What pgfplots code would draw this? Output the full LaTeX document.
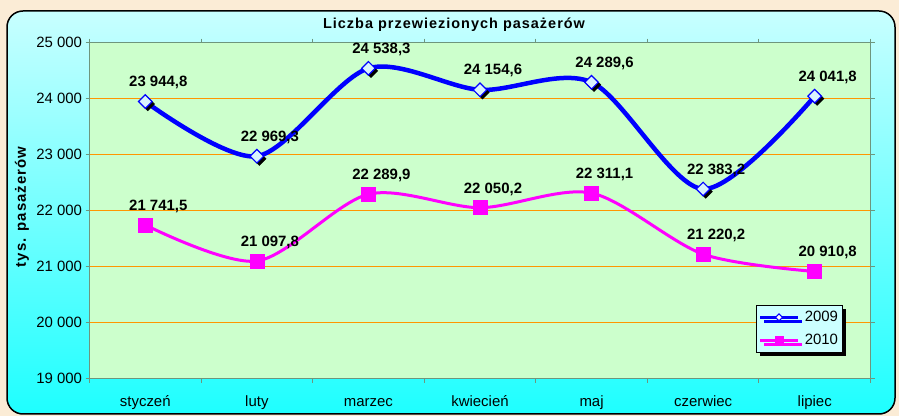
\documentclass[border=0pt]{standalone}
\usepackage{fontspec}
\setmainfont{Liberation Sans}
\newfontfamily\spacedfont[LetterSpace=7]{Liberation Sans}
\usepackage{pgfplots}
\pgfplotsset{compat=1.18}
\usetikzlibrary{shadows}

\definecolor{bgbeige}{RGB}{251,236,214}
\definecolor{paneltop}{RGB}{200,255,255}
\definecolor{panelbot}{RGB}{30,255,255}
\definecolor{plotedge}{RGB}{204,255,204}
\definecolor{plotmid}{RGB}{248,255,248}
\definecolor{gridor}{RGB}{255,150,0}
\definecolor{axgray}{RGB}{110,150,125}
\definecolor{legfill}{RGB}{204,255,255}
\definecolor{dblue}{RGB}{0,0,255}
\definecolor{dmag}{RGB}{255,0,255}

\begin{document}
\begin{tikzpicture}
\useasboundingbox (0,0) rectangle (899bp,416bp);
\fill[bgbeige] (0,0) rectangle (899bp,416bp);
\shade[top color=paneltop, bottom color=panelbot, draw=black, line width=1.5bp,
       rounded corners=16bp] (7bp,2bp) rectangle (895bp,405bp);

\begin{axis}[
  at={(89.5bp,37.5bp)}, anchor=south west, scale only axis,
  width=781bp, height=336bp,
  xmin=0.5, xmax=7.5, ymin=19000, ymax=25000,
  scaled y ticks=false,
  xtick={0.5,1.5,...,7.5},
  x tick label as interval,
  xticklabels={styczeń,luty,marzec,kwiecień,maj,czerwiec,lipiec},
  ytick={19000,20000,...,25000},
  yticklabels={19 000,20 000,21 000,22 000,23 000,24 000,25 000},
  tick align=outside, tick style={axgray, line width=1bp},
  major tick length=4bp,
  ymajorgrids,
  grid style={draw=gridor, line width=1bp},
  major grid style={draw=gridor, line width=1bp},
  axis line style={axgray, line width=1bp},
  axis background/.style={shade, top color=plotedge, middle color=plotmid, bottom color=plotedge},
  ticklabel style={font=\fontsize{15}{18}\selectfont, text=black},
  xticklabel style={anchor=base, yshift=-24bp},
  legend style={at={(0.964,0.077)}, anchor=south east,
    fill=legfill, draw=black, line width=0.8bp,
    font=\fontsize{15}{18}\selectfont, row sep=7bp, column sep=3bp,
    inner ysep=4bp, inner xsep=2bp,
    general shadow={fill=black, shadow xshift=4bp, shadow yshift=-4bp}},
  legend cell align=left,
  legend image code/.code={\draw[mark repeat=2, mark phase=2, #1] plot coordinates {(0bp,0bp) (19bp,0bp) (38bp,0bp)};},
]
\addlegendimage{dblue, line width=3.5bp, mark=square*, mark size=2.5bp,
  mark options={rotate=45, fill=white, draw=dblue, line width=1bp}}
\addlegendimage{dmag, line width=2.5bp, mark=square*, mark size=4bp,
  mark options={fill=dmag, draw=dmag, line width=0.5bp}}
\legend{2009,2010}

% 2009
\addplot[dblue, line width=4.5bp, smooth, forget plot] coordinates {
  (1,23944.8) (2,22969.3) (3,24538.3) (4,24154.6) (5,24289.6) (6,22383.2) (7,24041.8)
};
\addplot[only marks, mark=square*, mark size=4.8bp, forget plot,
  mark options={xshift=2.5bp, yshift=-2.5bp, rotate=45, fill=black, draw=black}] coordinates {
  (1,23944.8) (2,22969.3) (3,24538.3) (4,24154.6) (5,24289.6) (6,22383.2) (7,24041.8)
};
\addplot[only marks, mark=square*, mark size=4.8bp, forget plot,
  mark options={rotate=45, fill=cyan!15, draw=dblue, line width=1.2bp},
  point meta=explicit symbolic, nodes near coords,
  nodes near coords style={font=\bfseries\fontsize{15}{18}\selectfont, text=black,
    anchor=south, inner sep=0pt, yshift=12bp, xshift=13bp}] coordinates {
  (1,23944.8) [23 944,8]
  (2,22969.3) [22 969,3]
  (3,24538.3) [24 538,3]
  (4,24154.6) [24 154,6]
  (5,24289.6) [24 289,6]
  (6,22383.2) [22 383,2]
  (7,24041.8) [24 041,8]
};

% 2010
\addplot[dmag, line width=3bp, smooth, forget plot] coordinates {
  (1,21741.5) (2,21097.8) (3,22289.9) (4,22050.2) (5,22311.1) (6,21220.2) (7,20910.8)
};
\addplot[only marks, mark=square*, mark size=7bp, forget plot,
  mark options={fill=dmag, draw=dmag, line width=0.5bp},
  point meta=explicit symbolic, nodes near coords,
  nodes near coords style={font=\bfseries\fontsize{15}{18}\selectfont, text=black,
    anchor=south, inner sep=0pt, yshift=12bp, xshift=13bp}] coordinates {
  (1,21741.5) [21 741,5]
  (2,21097.8) [21 097,8]
  (3,22289.9) [22 289,9]
  (4,22050.2) [22 050,2]
  (5,22311.1) [22 311,1]
  (6,21220.2) [21 220,2]
  (7,20910.8) [20 910,8]
};
\end{axis}

\node[font=\spacedfont\bfseries\fontsize{14.5}{17}\selectfont, anchor=base]
  at (454bp,387bp) {Liczba przewiezionych pasażerów};
\node[font=\spacedfont\bfseries\fontsize{15}{18}\selectfont, rotate=90]
  at (22bp,209bp) {tys. pasażerów};
\end{tikzpicture}
\end{document}
